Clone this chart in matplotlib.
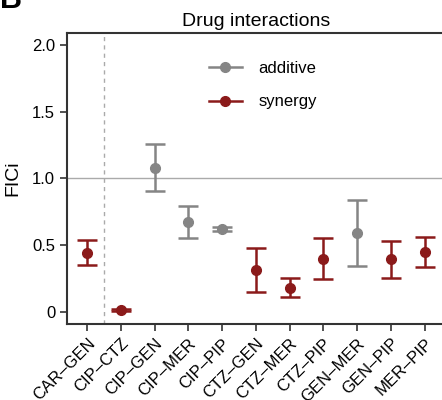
import matplotlib
matplotlib.use("Agg")
from matplotlib import pyplot as plt
from matplotlib.lines import Line2D

plt.rcParams['font.family'] = ['Liberation Sans', 'DejaVu Sans']

# 药物组合及 FICi 数值
pairs = ["CAR\u2013GEN", "CIP\u2013CTZ", "CIP\u2013GEN", "CIP\u2013MER", "CIP\u2013PIP",
         "CTZ\u2013GEN", "CTZ\u2013MER", "CTZ\u2013PIP", "GEN\u2013MER", "GEN\u2013PIP", "MER\u2013PIP"]
fici = [0.44, 0.015, 1.08, 0.676, 0.622, 0.315, 0.182, 0.395, 0.589, 0.395, 0.449]
lower = [0.35, 0.005, 0.906, 0.557, 0.610, 0.152, 0.112, 0.245, 0.342, 0.257, 0.340]
upper = [0.54, 0.025, 1.256, 0.794, 0.635, 0.482, 0.252, 0.552, 0.839, 0.532, 0.562]
kind = ["synergy", "synergy", "additive", "additive", "additive",
        "synergy", "synergy", "synergy", "additive", "synergy", "synergy"]

colors = {"additive": "#858585", "synergy": "#8b1a1a"}

fig = plt.figure(figsize=(4.42, 4.0), dpi=100)
ax = fig.add_axes([0.1516, 0.19, 0.855, 0.7275])

for i in range(len(pairs)):
    c = colors[kind[i]]
    ax.errorbar([i], [fici[i]],
                yerr=[[fici[i] - lower[i]], [upper[i] - fici[i]]],
                fmt='o', color=c, ecolor=c, markersize=7,
                elinewidth=1.8, capsize=7, capthick=1.8, zorder=3)

ax.axhline(1.0, color="#aaaaaa", lw=1.0, zorder=1)
ax.axvline(0.5, color="#aaaaaa", lw=1.0, ls=(0, (3, 3)), zorder=1)

ax.set_xlim(-0.6, len(pairs) - 0.4)
ax.set_ylim(-0.09, 2.09)
ax.set_yticks([0, 0.5, 1.0, 1.5, 2.0])
ax.set_yticklabels(["0", "0.5", "1.0", "1.5", "2.0"])
ax.set_xticks(range(len(pairs)))
ax.set_xticklabels(pairs, rotation=45, ha='right', rotation_mode='anchor')

ax.set_ylabel("FICi", fontsize=14, labelpad=8)
ax.set_title("Drug interactions", fontsize=14, pad=5)
ax.tick_params(axis='both', which='major', labelsize=12, length=5,
               width=1.2, color="#333333", direction='out')
for s in ax.spines.values():
    s.set_color("#333333")
    s.set_linewidth(1.5)

handles = [Line2D([0], [0], color=colors[k], marker='o', markersize=7, lw=1.8)
           for k in ["additive", "synergy"]]
ax.legend(handles, ["additive", "synergy"], loc='upper left',
          bbox_to_anchor=(0.335, 0.955), frameon=False, fontsize=12,
          handlelength=2.0, labelspacing=1.1, handletextpad=1.0)

fig.text(0.0, 1.0, "B", fontsize=22, fontweight='bold', va='center', ha='left')

fig.savefig("out.png", dpi=100)
